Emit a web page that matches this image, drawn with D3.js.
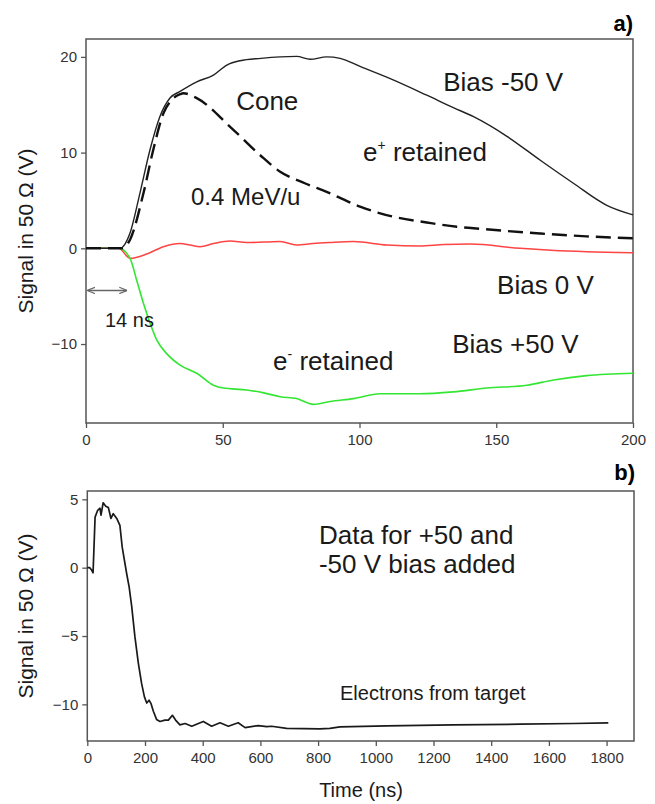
<!DOCTYPE html>
<html>
<head>
<meta charset="utf-8">
<script src="https://cdn.jsdelivr.net/npm/d3@7"></script>
<style>
  body { margin: 0; background: #fff; }
  svg { font-family: "Liberation Sans", Arial, sans-serif; }
</style>
</head>
<body>
<div id="chart"></div>
<script>
// ---- panel a) data, [time (ns), signal (V)] ----
const biasNeg50 = [[0,0],[12.4,0],[16.1,1.6],[19.75,5.8],[23.4,10.3],[27,13.75],[30.7,15.7],[34.4,16.4],[40.5,17.4],[46.6,18.1],[51.5,19.15],[56.3,19.6],[64,19.85],[71,20.0],[77,20.05],[82,19.75],[88,20.0],[92.9,19.85],[100.2,19.0],[112.3,17.6],[124.6,16.0],[134.3,14.7],[141.7,13.75],[153.9,11.7],[166.1,9.2],[178.2,6.8],[190.4,4.5],[200,3.5]];
const cone04 = [[0,0],[13,0],[16.1,0.9],[21,5.75],[24.6,10.3],[28.3,14.1],[31.3,15.5],[34.4,16.1],[35.6,16.2],[40.5,15.7],[52.7,12.7],[63.6,9.75],[71,8.0],[80,6.8],[88,5.9],[100.2,4.35],[112.4,3.3],[124.6,2.7],[135.6,2.25],[141.7,2.1],[166,1.55],[183,1.25],[200,1.05]];
const bias0 = [[0,0],[12,0],[16.1,-1.05],[22.2,-0.6],[28.3,0.17],[34.4,0.5],[38,0.35],[41.7,0.17],[46.6,0.5],[52.7,0.76],[58.8,0.6],[65,0.65],[71,0.7],[77,0.35],[83,0.5],[89,0.6],[97.8,0.7],[110,0.35],[122,0.24],[131,0.4],[140.5,0.45],[158.7,0.0],[170,-0.2],[183,-0.35],[200,-0.45]];
const biasPos50 = [[0,0],[12,0],[16.1,-1.05],[18.5,-3.3],[21,-5.75],[23.4,-7.8],[25.9,-9.6],[29.5,-11],[34.4,-12.2],[40.5,-13.05],[46.6,-14.3],[50.2,-14.6],[58.8,-14.8],[65,-15.1],[71,-15.5],[77,-15.7],[83.1,-16.3],[89.2,-16.0],[97.8,-15.7],[107.5,-15.2],[122,-15.2],[134.3,-15.0],[146.5,-14.6],[161.2,-14.3],[171,-13.75],[183,-13.3],[200,-13.05]];

// ---- panel b) data: +50 V and -50 V bias added ----
const summed = [[0,0],[8,0],[15,-0.17],[20,-0.37],[27,3.7],[36,4.2],[44,4.35],[47.5,3.85],[55,4.75],[64,4.5],[73,4.4],[82,3.6],[90,3.95],[102,3.6],[113,3.1],[121,1.5],[137,-0.5],[145,-1.4],[154,-2.85],[165,-5.05],[177,-7.0],[188,-8.45],[198,-9.45],[206,-9.9],[214,-9.7],[221,-9.95],[229,-10.5],[240,-11.1],[252,-11.25],[269,-11.15],[281,-11.15],[295,-10.8],[306,-11.15],[321,-11.5],[339,-11.4],[362,-11.6],[402,-11.25],[431,-11.6],[460,-11.35],[489,-11.6],[523,-11.35],[547,-11.7],[593,-11.55],[622,-11.63],[639,-11.6],[691,-11.75],[806,-11.8],[841,-11.75],[876,-11.65],[1038,-11.58],[1269,-11.5],[1500,-11.45],[1685,-11.4],[1806,-11.35]];

// ticks
const xTicksA = [0, 50, 100, 150, 200];
const yTicksA = [-10, 0, 10, 20];
const xTicksB = [0, 200, 400, 600, 800, 1000, 1200, 1400, 1600, 1800];
const yTicksB = [-10, -5, 0, 5];

const svg = d3.select("#chart").append("svg")
    .attr("width", 655)
    .attr("height", 804);

const defs = svg.append("defs");
["arrowEnd", "arrowStart"].forEach((id, i) => {
    defs.append("marker")
        .attr("id", id)
        .attr("viewBox", "0 0 10 10")
        .attr("refX", i === 0 ? 9 : 1).attr("refY", 5)
        .attr("markerWidth", 8).attr("markerHeight", 8)
        .attr("markerUnits", "userSpaceOnUse")
        .attr("orient", "auto")
        .append("path")
        .attr("d", i === 0 ? "M0,1 L10,5 L0,9" : "M10,1 L0,5 L10,9")
        .attr("fill", "none")
        .attr("stroke", "#666")
        .attr("stroke-width", 1.5);
});

// build a framed panel with outward ticks and return its scales
function panel(box, xDomain, yDomain, xTicks, yTicks) {
    const x = d3.scaleLinear().domain(xDomain).range([box.left, box.right]);
    const y = d3.scaleLinear().domain(yDomain).range([box.bottom, box.top]);

    svg.append("rect")
        .attr("x", box.left).attr("y", box.top)
        .attr("width", box.right - box.left).attr("height", box.bottom - box.top)
        .attr("fill", "none").attr("stroke", "#555").attr("stroke-width", 1.5);

    const gx = svg.append("g")
        .attr("transform", "translate(0," + box.bottom + ")")
        .call(d3.axisBottom(x).tickValues(xTicks).tickFormat(d3.format("d")).tickSize(5).tickPadding(6));
    const gy = svg.append("g")
        .attr("transform", "translate(" + box.left + ",0)")
        .call(d3.axisLeft(y).tickValues(yTicks).tickFormat(d3.format("d")).tickSize(5).tickPadding(4));

    [gx, gy].forEach(g => {
        g.select(".domain").remove();
        g.selectAll(".tick line").attr("stroke", "#555").attr("stroke-width", 1.3);
        g.selectAll(".tick text")
            .attr("fill", "#333")
            .style("font-size", "15px")
            .style("font-family", "'Liberation Sans', Arial, sans-serif");
    });
    return {x, y};
}

const A = panel({left: 86, right: 633, top: 39, bottom: 423}, [0, 200], [-18.25, 21.87], xTicksA, yTicksA);
const B = panel({left: 87.3, right: 634, top: 491, bottom: 741}, [0, 1895], [-12.68, 5.61], xTicksB, yTicksB);

const lineA = d3.line().x(d => A.x(d[0])).y(d => A.y(d[1])).curve(d3.curveMonotoneX);
const lineB = d3.line().x(d => B.x(d[0])).y(d => B.y(d[1]));

svg.append("path").datum(bias0)
    .attr("d", lineA).attr("fill", "none").attr("stroke", "#ff4444").attr("stroke-width", 1.5);
svg.append("path").datum(biasPos50)
    .attr("d", lineA).attr("fill", "none").attr("stroke", "#33e633").attr("stroke-width", 1.6);
svg.append("path").datum(biasNeg50)
    .attr("d", lineA).attr("fill", "none").attr("stroke", "#222").attr("stroke-width", 1.4);
svg.append("path").datum(cone04)
    .attr("d", lineA).attr("fill", "none").attr("stroke", "#111")
    .attr("stroke-width", 2.4).attr("stroke-dasharray", "15,7");

svg.append("path").datum(summed)
    .attr("d", lineB).attr("fill", "none").attr("stroke", "#1a1a1a")
    .attr("stroke-width", 1.7).attr("stroke-linejoin", "round");

// 14 ns delay arrow
svg.append("line")
    .attr("x1", A.x(0.7)).attr("x2", A.x(14.8))
    .attr("y1", A.y(-4.4)).attr("y2", A.y(-4.4))
    .attr("stroke", "#666").attr("stroke-width", 1.5)
    .attr("marker-start", "url(#arrowStart)")
    .attr("marker-end", "url(#arrowEnd)");

// annotations, positioned in data units
const notesA = [
    {t: 54.9, v: 14.45, text: "Cone", size: 26},
    {t: 38.4, v: 4.52, text: "0.4 MeV/u", size: 24},
    {t: 130.6, v: 16.44, text: "Bias -50 V", size: 26},
    {t: 150.3, v: -4.78, text: "Bias 0 V", size: 26},
    {t: 133.9, v: -10.97, text: "Bias +50 V", size: 26},
    {t: 6.95, v: -8.19, text: "14 ns", size: 20}
];
notesA.forEach(n => {
    svg.append("text")
        .attr("x", A.x(n.t)).attr("y", A.y(n.v))
        .attr("fill", "#1a1a1a")
        .style("font-size", n.size + "px")
        .text(n.text);
});

const charges = [
    {t: 101.3, v: 9.12, sign: "+"},
    {t: 68.4, v: -12.72, sign: "-"}
];
charges.forEach(c => {
    const txt = svg.append("text")
        .attr("x", A.x(c.t)).attr("y", A.y(c.v))
        .attr("fill", "#1a1a1a")
        .style("font-size", "26px");
    txt.append("tspan").text("e");
    txt.append("tspan").attr("dy", -11).style("font-size", "14px").text(c.sign);
    txt.append("tspan").attr("dy", 11).text(" retained");
});

const notesB = [
    {t: 803, v: 1.73, text: "Data for +50 and", size: 26},
    {t: 803, v: -0.41, text: "-50 V bias added", size: 26},
    {t: 876, v: -9.68, text: "Electrons from target", size: 20}
];
notesB.forEach(n => {
    svg.append("text")
        .attr("x", B.x(n.t)).attr("y", B.y(n.v))
        .attr("fill", "#1a1a1a")
        .style("font-size", n.size + "px")
        .text(n.text);
});

// panel tags and axis titles
svg.append("text").attr("x", 633).attr("y", 31)
    .attr("text-anchor", "end").style("font-size", "22px").style("font-weight", "bold").text("a)");
svg.append("text").attr("x", 635).attr("y", 480)
    .attr("text-anchor", "end").style("font-size", "22px").style("font-weight", "bold").text("b)");

[[231], [616]].forEach(([cy]) => {
    svg.append("text")
        .attr("transform", "translate(33," + cy + ") rotate(-90)")
        .attr("text-anchor", "middle")
        .attr("fill", "#1a1a1a")
        .style("font-size", "21px")
        .text("Signal in 50 Ω (V)");
});

svg.append("text")
    .attr("x", 361).attr("y", 797)
    .attr("text-anchor", "middle")
    .attr("fill", "#1a1a1a")
    .style("font-size", "20px")
    .text("Time (ns)");
</script>
</body>
</html>
